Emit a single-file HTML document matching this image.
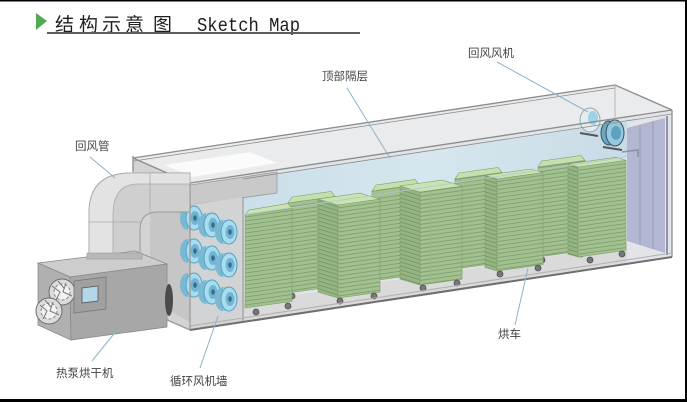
<!DOCTYPE html>
<html><head><meta charset="utf-8"><style>
html,body{margin:0;padding:0;background:#fff;}
svg{display:block;}
.lb{font-family:"Liberation Sans","Noto Sans CJK SC",sans-serif;font-size:11.5px;fill:#444;}
.tc{font-family:"Liberation Sans","Noto Sans CJK SC",sans-serif;font-size:19px;fill:#1e1e1e;}
</style></head><body>
<svg width="687" height="402" viewBox="0 0 687 402" xmlns="http://www.w3.org/2000/svg">
<defs>
<pattern id="fs" width="10" height="4" patternUnits="userSpaceOnUse" patternTransform="skewY(-8)">
<rect width="10" height="4" fill="#a3c190"/><rect y="3" width="10" height="1" fill="#82a272"/></pattern>
<pattern id="ls" width="10" height="4" patternUnits="userSpaceOnUse" patternTransform="skewY(17)">
<rect width="10" height="4" fill="#95b584"/><rect y="3" width="10" height="1" fill="#789868"/></pattern>
<linearGradient id="bl" x1="0" y1="0" x2="1" y2="0">
<stop offset="0" stop-color="#cadfe9"/><stop offset="0.5" stop-color="#d6e6ee"/><stop offset="1" stop-color="#c8dbe6"/></linearGradient>
</defs>
<rect width="687" height="402" fill="#fff"/>

<polygon points="133,158 190,183 190,330 133,305" fill="#d3d3d3"/>
<polygon points="133,158 615,85 672,110 190,183" fill="#eaebed"/>
<polygon points="165,165 250,152 277,163 192,177" fill="#fbfbfb"/>
<polygon points="190,183 672,110 672,257 190,330" fill="#dfe5e9"/>
<polygon points="243,180 627,121.8 627,156.8 243,215" fill="url(#bl)"/>
<polygon points="243,303 672,238 672,257 243,322" fill="#dadada"/>
<polygon points="627,118 672,110 672,257 627,264" fill="#e2e4ea"/>
<polygon points="627,150 627,128 665,118 665,253 627,241" fill="#b3b7d2"/>
<line x1="640" y1="125" x2="640" y2="245" stroke="#9a9ebd" stroke-width="1"/>
<line x1="653" y1="121" x2="653" y2="249" stroke="#9a9ebd" stroke-width="1"/>
<line x1="667" y1="116" x2="667" y2="255" stroke="#8e92ad" stroke-width="2"/>
<line x1="580" y1="133" x2="598" y2="136" stroke="#555" stroke-width="2"/>
<ellipse cx="590" cy="120" rx="10" ry="12" fill="#e3ecf1" stroke="#9aa6ad"/>
<ellipse cx="593" cy="118" rx="5" ry="7" fill="#9fd2e6"/>
<line x1="603" y1="147" x2="622" y2="150" stroke="#555" stroke-width="2"/>
<ellipse cx="609" cy="133" rx="8" ry="12" fill="#6aa9c4" stroke="#3d4f5a"/>
<ellipse cx="615" cy="133" rx="9" ry="13" fill="#92c9df" stroke="#3d4f5a"/>
<ellipse cx="616" cy="133" rx="5" ry="7" fill="#5ea2c0"/>
<path d="M622,152 L638,150 L638,157" fill="none" stroke="#8a8fa8" stroke-width="1.5"/>

<g stroke="#7f9e6f" stroke-width="0.6">
<polygon points="288,203 335,196.4 335,286.4 288,293" fill="url(#fs)"/>
<polygon points="288,203 335,196.4 331,191.4 292,197" fill="#c5e0ad"/>
<polygon points="372,191 419,184.4 419,274.4 372,281" fill="url(#fs)"/>
<polygon points="372,191 419,184.4 415,179.4 376,185" fill="#c5e0ad"/>
<polygon points="455,179 502,172.4 502,262.4 455,269" fill="url(#fs)"/>
<polygon points="455,179 502,172.4 498,167.4 459,173" fill="#c5e0ad"/>
<polygon points="538,167 585,160.4 585,250.4 538,257" fill="url(#fs)"/>
<polygon points="538,167 585,160.4 581,155.4 542,161" fill="#c5e0ad"/>
</g>
<g fill="#777" stroke="#4f4f4f" stroke-width="0.8">
<circle cx="292" cy="296" r="3"/><circle cx="331" cy="290" r="3"/>
<circle cx="376" cy="284" r="3"/><circle cx="415" cy="278" r="3"/>
<circle cx="459" cy="272" r="3"/><circle cx="498" cy="266" r="3"/>
<circle cx="542" cy="260" r="3"/><circle cx="581" cy="254" r="3"/>
</g>
<g stroke="#7f9e6f" stroke-width="0.6">
<polygon points="245,215 292,208.4 292,301.4 245,308" fill="url(#fs)"/>
<polygon points="245,215 292,208.4 288,203.4 249,210" fill="#c9e4b0"/>
<polygon points="318,199 338,205 338,298 318,292" fill="url(#ls)"/>
<polygon points="338,205 380,199.1 380,292.1 338,298" fill="url(#fs)"/>
<polygon points="318,199 338,205 380,199.1 360,193.1" fill="#c9e4b0"/>
<polygon points="400,186 420,192 420,285 400,279" fill="url(#ls)"/>
<polygon points="420,192 462,186.1 462,279.1 420,285" fill="url(#fs)"/>
<polygon points="400,186 420,192 462,186.1 442,180.1" fill="#c9e4b0"/>
<polygon points="485,175.4 497,179 497,271 485,267.4" fill="url(#ls)"/>
<polygon points="497,179 543,172.6 543,264.6 497,271" fill="url(#fs)"/>
<polygon points="485,175.4 497,179 543,172.6 531,169" fill="#c9e4b0"/>
<polygon points="568,164 578,167 578,257 568,254" fill="url(#ls)"/>
<polygon points="578,167 626,160.3 626,250.3 578,257" fill="url(#fs)"/>
<polygon points="568,164 578,167 626,160.3 616,157.3" fill="#c9e4b0"/>
</g>
<g fill="#777" stroke="#4f4f4f" stroke-width="0.8">
<circle cx="256" cy="312" r="3"/><circle cx="288" cy="306" r="3"/>
<circle cx="340" cy="301" r="3"/><circle cx="374" cy="296" r="3"/>
<circle cx="423" cy="288" r="3"/><circle cx="457" cy="283" r="3"/>
<circle cx="500" cy="274" r="3"/><circle cx="538" cy="268" r="3"/>
<circle cx="590" cy="260" r="3"/><circle cx="622" cy="254" r="3"/>
</g>

<polygon points="190,185 277,172 277,193 190,205" fill="#c9c9c9" stroke="#9a9a9a" stroke-width="0.8"/>
<polygon points="190,205 243,197 243,322 190,330" fill="#d2d3d5"/>
<polygon points="150,205 190,205 190,322 150,300" fill="#c6c6c6"/>
<line x1="243" y1="197" x2="243" y2="322" stroke="#9c9c9c" stroke-width="1.2"/>

<g>
<g>
<ellipse cx="188" cy="218" rx="8" ry="12" fill="#7ab9d3"/><rect x="188" y="206" width="6" height="24" fill="#93cde3"/>
<ellipse cx="194" cy="218" rx="8" ry="12" fill="#a8dcef" stroke="#5b9fbd"/><ellipse cx="195" cy="218" rx="4.5" ry="7" fill="#72b5d2"/><ellipse cx="195" cy="218" rx="1.8" ry="2.8" fill="#3a6e86"/>
</g>
<g>
<ellipse cx="188" cy="251" rx="8" ry="12" fill="#7ab9d3"/><rect x="188" y="239" width="6" height="24" fill="#93cde3"/>
<ellipse cx="194" cy="251" rx="8" ry="12" fill="#a8dcef" stroke="#5b9fbd"/><ellipse cx="195" cy="251" rx="4.5" ry="7" fill="#72b5d2"/><ellipse cx="195" cy="251" rx="1.8" ry="2.8" fill="#3a6e86"/>
</g>
<g>
<ellipse cx="188" cy="285" rx="8" ry="12" fill="#7ab9d3"/><rect x="188" y="273" width="6" height="24" fill="#93cde3"/>
<ellipse cx="194" cy="285" rx="8" ry="12" fill="#a8dcef" stroke="#5b9fbd"/><ellipse cx="195" cy="285" rx="4.5" ry="7" fill="#72b5d2"/><ellipse cx="195" cy="285" rx="1.8" ry="2.8" fill="#3a6e86"/>
</g>
<g>
<ellipse cx="206" cy="225" rx="8" ry="12" fill="#7ab9d3"/><rect x="206" y="213" width="6" height="24" fill="#93cde3"/>
<ellipse cx="212" cy="225" rx="8" ry="12" fill="#a8dcef" stroke="#5b9fbd"/><ellipse cx="213" cy="225" rx="4.5" ry="7" fill="#72b5d2"/><ellipse cx="213" cy="225" rx="1.8" ry="2.8" fill="#3a6e86"/>
</g>
<g>
<ellipse cx="206" cy="258" rx="8" ry="12" fill="#7ab9d3"/><rect x="206" y="246" width="6" height="24" fill="#93cde3"/>
<ellipse cx="212" cy="258" rx="8" ry="12" fill="#a8dcef" stroke="#5b9fbd"/><ellipse cx="213" cy="258" rx="4.5" ry="7" fill="#72b5d2"/><ellipse cx="213" cy="258" rx="1.8" ry="2.8" fill="#3a6e86"/>
</g>
<g>
<ellipse cx="206" cy="292" rx="8" ry="12" fill="#7ab9d3"/><rect x="206" y="280" width="6" height="24" fill="#93cde3"/>
<ellipse cx="212" cy="292" rx="8" ry="12" fill="#a8dcef" stroke="#5b9fbd"/><ellipse cx="213" cy="292" rx="4.5" ry="7" fill="#72b5d2"/><ellipse cx="213" cy="292" rx="1.8" ry="2.8" fill="#3a6e86"/>
</g>
<g>
<ellipse cx="223" cy="232" rx="8" ry="12" fill="#7ab9d3"/><rect x="223" y="220" width="6" height="24" fill="#93cde3"/>
<ellipse cx="229" cy="232" rx="8" ry="12" fill="#a8dcef" stroke="#5b9fbd"/><ellipse cx="230" cy="232" rx="4.5" ry="7" fill="#72b5d2"/><ellipse cx="230" cy="232" rx="1.8" ry="2.8" fill="#3a6e86"/>
</g>
<g>
<ellipse cx="223" cy="265" rx="8" ry="12" fill="#7ab9d3"/><rect x="223" y="253" width="6" height="24" fill="#93cde3"/>
<ellipse cx="229" cy="265" rx="8" ry="12" fill="#a8dcef" stroke="#5b9fbd"/><ellipse cx="230" cy="265" rx="4.5" ry="7" fill="#72b5d2"/><ellipse cx="230" cy="265" rx="1.8" ry="2.8" fill="#3a6e86"/>
</g>
<g>
<ellipse cx="223" cy="299" rx="8" ry="12" fill="#7ab9d3"/><rect x="223" y="287" width="6" height="24" fill="#93cde3"/>
<ellipse cx="229" cy="299" rx="8" ry="12" fill="#a8dcef" stroke="#5b9fbd"/><ellipse cx="230" cy="299" rx="4.5" ry="7" fill="#72b5d2"/><ellipse cx="230" cy="299" rx="1.8" ry="2.8" fill="#3a6e86"/>
</g>
</g>

<g stroke="#8c8c8c" stroke-width="1.3" fill="none">
<line x1="133" y1="158" x2="615" y2="85"/>
<line x1="134" y1="161" x2="615" y2="88" stroke-width="0.8"/>
<line x1="190" y1="183" x2="672" y2="110"/>
<line x1="243" y1="179" x2="672" y2="114" stroke-width="0.8"/>
<line x1="615" y1="85" x2="672" y2="110"/>
<line x1="133" y1="158" x2="190" y2="183"/>
<line x1="133" y1="156" x2="133" y2="172"/>
<line x1="190" y1="183" x2="190" y2="330" stroke="#9a9a9a"/>
<line x1="672" y1="110" x2="672" y2="257"/>
<line x1="615" y1="85" x2="615" y2="125" stroke="#aaa" stroke-width="0.8"/>
<line x1="243" y1="215" x2="627" y2="156.8" stroke="#b6c6d0" stroke-width="0.8"/>
<line x1="133" y1="305" x2="190" y2="330" stroke="#999"/>
<line x1="190" y1="326" x2="672" y2="253" stroke="#b0b0b0" stroke-width="1"/>
<line x1="190" y1="330" x2="672" y2="257" stroke="#6f6f6f" stroke-width="2"/>
</g>

<path d="M89,258 L89,213 Q89,173 131,173 L190,173 L190,212 L158,212 Q140,212 140,230 L140,258 Z" fill="#cfcfcf" stroke="#999" stroke-width="1"/>
<path d="M89,258 L89,213 Q89,173 131,173 L190,173 L190,184 L138,184 Q113,184 113,215 L113,258 Z" fill="#e3e3e3" stroke="#aaa" stroke-width="0.8"/>
<line x1="89" y1="222" x2="140" y2="222" stroke="#aaa" stroke-width="0.8"/>
<line x1="150" y1="173" x2="150" y2="212" stroke="#aaa" stroke-width="0.8"/>

<polygon points="38,263 135,251 167,264 70,277" fill="#cdcdcd" stroke="#8a8a8a" stroke-width="0.8"/>
<polygon points="38,263 70,277 71,340 38,325" fill="#b0b0b0" stroke="#8a8a8a" stroke-width="0.8"/>
<polygon points="70,277 167,264 167,327 71,340" fill="#a7a7a7" stroke="#8a8a8a" stroke-width="0.8"/>
<rect x="87" y="253" width="55" height="6" fill="#b8b8b8" stroke="#999" stroke-width="0.6"/>
<g>
<circle cx="62" cy="292" r="13" fill="#dcdcdc" stroke="#6b6b6b"/>
<circle cx="62" cy="292" r="8" fill="#f2f2f2" stroke="#888" stroke-dasharray="3 2"/>
<path d="M52,286 L60,292 L56,300 M66,283 L63,292 L72,296 M58,281 L64,288" stroke="#777" fill="none"/>
<circle cx="49" cy="311" r="13" fill="#dcdcdc" stroke="#6b6b6b"/>
<circle cx="49" cy="311" r="8" fill="#f2f2f2" stroke="#888" stroke-dasharray="3 2"/>
<path d="M40,305 L47,311 L43,319 M53,302 L50,311 L59,315 M45,300 L51,307" stroke="#777" fill="none"/>
</g>
<polygon points="74,281 106,277 106,309 74,313" fill="#a0a0a0" stroke="#777" stroke-width="0.8"/>
<polygon points="82,288 98,286 98,301 82,303" fill="#b5d6e8" stroke="#555" stroke-width="0.8"/>
<ellipse cx="169" cy="300" rx="4" ry="16" fill="#4a4a4a"/>

<g stroke="#8db3c9" stroke-width="1" fill="none">
<line x1="497" y1="62" x2="588" y2="112"/>
<line x1="347" y1="88" x2="390" y2="158"/>
<line x1="90" y1="157" x2="115" y2="178"/>
<line x1="92" y1="361" x2="117" y2="330"/>
<line x1="200" y1="368" x2="218" y2="316"/>
<line x1="515" y1="325" x2="528" y2="268"/>
</g>
<text class="lb" x="468" y="57">回风风机</text>
<text class="lb" x="322" y="80">顶部隔层</text>
<text class="lb" x="75" y="150">回风管</text>
<text class="lb" x="56" y="377">热泵烘干机</text>
<text class="lb" x="170" y="385">循环风机墙</text>
<text class="lb" x="498" y="338">烘车</text>

<polygon points="36,13 47,21 36,30" fill="#54a954"/>
<text class="tc" x="55" y="31">结</text>
<text class="tc" x="79" y="31">构</text>
<text class="tc" x="102" y="31">示</text>
<text class="tc" x="125" y="31">意</text>
<text class="tc" x="153" y="31">图</text>
<text x="197" y="31" font-family="Liberation Mono, monospace" font-size="19" fill="#1e1e1e" textLength="103" lengthAdjust="spacingAndGlyphs">Sketch Map</text>
<rect x="47" y="32" width="313" height="2" fill="#5e5e5e"/>

<rect x="0" y="0" width="687" height="1.5" fill="#000"/>
<rect x="685" y="0" width="2" height="402" fill="#000"/>
<rect x="0" y="399" width="687" height="3" fill="#000"/>
</svg>
</body></html>
